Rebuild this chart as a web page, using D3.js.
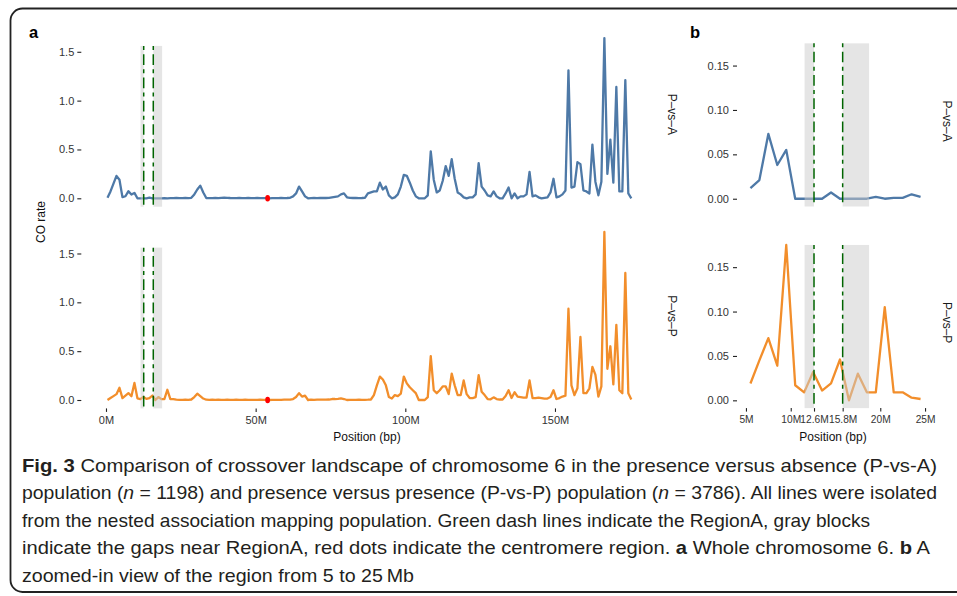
<!DOCTYPE html>
<html>
<head>
<meta charset="utf-8">
<script src="https://cdn.jsdelivr.net/npm/d3@7"></script>
<style>
  body { margin: 0; background: #ffffff; }
  svg { display: block; }
</style>
</head>
<body>
<svg id="chart" width="957" height="596"></svg>
<script>
// ---------------- DATA ----------------
// bin centres (Mb) along chromosome 6, 1-Mb bins
const positionMb = d3.range(0.5, 176, 1);

// CO rate, presence-vs-absence population
const pvaRate = [
  0.005, 0.07, 0.15, 0.23, 0.19, 0.012, 0.021, 0.073, 0.038, 0.055,
  0, 0, 0, 0, 0.007, 0, 0, 0, 0, 0.002,
  0, 0.001, 0.001, 0.005, 0.002, 0.002, 0.003, 0.002, 0.005, 0.04,
  0.09, 0.13, 0.06, 0.003, 0.002, 0.002, 0.003, 0.002, 0.004, 0.006,
  0.005, 0.003, 0.002, 0.002, 0.003, 0.002, 0.002, 0.003, 0.002, 0.002,
  0.003, 0.002, 0.001, 0.001, 0.0, 0.001, 0.002, 0.002, 0.003, 0.002,
  0.003, 0.005, 0.02, 0.05, 0.12, 0.07, 0.02, 0.0, 0.002, 0.003,
  0.002, 0.003, 0.004, 0.003, 0.004, 0.01, 0.015, 0.02, 0.04, 0.05,
  0.01, 0.004, 0.003, 0.003, 0.002, 0.003, 0.005, 0.05, 0.06, 0.07,
  0.07, 0.16, 0.09, 0.12, 0.03, 0.0, 0.01, 0.04, 0.12, 0.24,
  0.23, 0.16, 0.08, 0.02, 0.0, 0.0, 0.0, 0.03, 0.48, 0.19,
  0.06, 0.08, 0.18, 0.33, 0.23, 0.40, 0.2, 0.06, 0.04, 0.01,
  0.0, 0.01, 0.01, 0.04, 0.36, 0.12, 0.08, 0.03, 0.02, 0.07,
  0.02, 0.0, 0.0, 0.05, 0.11, 0.0, 0.05, 0.0, 0.02, 0.02,
  0.04, 0.27, 0.02, 0.03, 0.01, 0.0, 0.005, 0.01, 0.06, 0.2,
  0.01, 0.02, 0.04, 0.08, 1.31, 0.11, 0.12, 0.37, 0.35, 0.08,
  0.07, 0.05, 0.55, 0.17, 0.03, 0.17, 1.64, 0.25, 0.60, 0.16,
  1.14, 0.07, 0.07, 1.21, 0.05, 0.0
];

// CO rate, presence-vs-presence population
const pvpRate = [
  0.0, 0.02, 0.04, 0.06, 0.125, 0.019, 0.045, 0.07, 0.039, 0.175,
  0.017, 0.009, 0.032, 0.011, 0.019, 0.046, 0.0, 0.03, 0.009, 0.009,
  0.105, 0.009, 0.009, 0.003, 0.0015, 0.002, 0.003, 0.002, 0.005, 0.03,
  0.065, 0.04, 0.015, 0.003, 0.002, 0.003, 0.002, 0.003, 0.002, 0.002,
  0.003, 0.002, 0.002, 0.003, 0.002, 0.002, 0.003, 0.002, 0.002, 0.002,
  0.002, 0.003, 0.002, 0.001, 0.0, 0.001, 0.002, 0.002, 0.002, 0.003,
  0.003, 0.004, 0.01, 0.03, 0.07, 0.035, 0.045, 0.0, 0.003, 0.002,
  0.003, 0.003, 0.004, 0.003, 0.005, 0.01, 0.01, 0.012, 0.017, 0.01,
  0.0, 0.002, 0.002, 0.002, 0.003, 0.002, 0.002, 0.003, 0.005, 0.05,
  0.15, 0.24, 0.21, 0.15, 0.03, 0.015, 0.05, 0.04, 0.065, 0.24,
  0.17, 0.13, 0.1, 0.07, 0.0, 0.0, 0.0, 0.03, 0.45, 0.1,
  0.07, 0.1, 0.14, 0.14, 0.06, 0.27, 0.15, 0.05, 0.05, 0.2,
  0.06, 0.02, 0.02, 0.03, 0.255, 0.085, 0.05, 0.01, 0.007, 0.027,
  0.01, 0.005, 0.005, 0.04, 0.1, 0.02, 0.08, 0.035, 0.03, 0.025,
  0.025, 0.2, 0.02, 0.02, 0.025, 0.02, 0.015, 0.015, 0.03, 0.1,
  0.01, 0.02, 0.035, 0.045, 0.935, 0.15, 0.05, 0.12, 0.645, 0.07,
  0.07, 0.12, 0.34, 0.26, 0.035, 0.14, 1.72, 0.32, 0.55, 0.16,
  0.77, 0.1, 0.07, 1.30, 0.07, 0.005
];

const facetNames = ["P\u2013vs\u2013A", "P\u2013vs\u2013P"];
const regionAMb = [12.6, 15.8];                  // green dash lines
const gapBlocksMb = [[11.55, 12.6], [15.8, 18.75]]; // gray blocks
const centromereMb = 54;                          // red dot
const zoomWindowMb = [5, 25];
const gapTopA = 1.56;   // upper limit of gray block / green lines, panel a
const gapTopB = 0.175;  // panel b

const ticksAY = [0, 0.5, 1.0, 1.5];
const ticksAYLabels = ["0.0", "0.5", "1.0", "1.5"];
const ticksAX = [0, 50, 100, 150];
const ticksAXLabels = ["0M", "50M", "100M", "150M"];
const ticksBY = [0, 0.05, 0.10, 0.15];
const ticksBYLabels = ["0.00", "0.05", "0.10", "0.15"];
const ticksBX = [5, 10, 12.6, 15.8, 20, 25];
const ticksBXLabels = ["5M", "10M", "12.6M", "15.8M", "20M", "25M"];

const captionLines = [
  [["Fig. 3", "b"], [" Comparison of crossover landscape of chromosome 6 in the presence versus absence (P-vs-A)", ""]],
  [["population (", ""], ["n", "i"], [" = 1198) and presence versus presence (P-vs-P) population (", ""], ["n", "i"], [" = 3786). All lines were isolated", ""]],
  [["from the nested association mapping population. Green dash lines indicate the RegionA, gray blocks", ""]],
  [["indicate the gaps near RegionA, red dots indicate the centromere region. ", ""], ["a", "b"], [" Whole chromosome 6. ", ""], ["b", "b"], [" A", ""]],
  [["zoomed-in view of the region from 5 to 25\u2009Mb", ""]]
];

// ---------------- DRAW ----------------
const svg = d3.select("#chart");
const FONT = "'Liberation Sans', Arial, Helvetica, sans-serif";
const colors = ["#4E79A7", "#F28E2B"];

// frame
svg.append("rect")
  .attr("x", 10.5).attr("y", 8.5).attr("width", 1000).attr("height", 583.5)
  .attr("rx", 12).attr("fill", "none").attr("stroke", "#222").attr("stroke-width", 1.8);

const seriesAll = [pvaRate, pvpRate].map(vals => positionMb.map((p, i) => ({pos: p, val: vals[i]})));

function expand(lo, hi, f) { const d = (hi - lo) * f; return [lo - d, hi + d]; }

const panels = [
  {
    key: "a",
    xDomain: expand(d3.min(positionMb), d3.max(positionMb), 0.05),
    xRange: [81.3, 657.5],
    rows: [[21.9, 206.7], [223.6, 408.4]],
    filter: () => true,
    yMax: d3.max([...pvaRate, ...pvpRate]),
    gapTop: gapTopA,
    ticksY: ticksAY, ticksYLab: ticksAYLabels, ticksX: ticksAX, ticksXLab: ticksAXLabels,
    yPad: 3, xFont: 11, showCentromere: true, stripX: 672, xTitle: 367
  },
  {
    key: "b",
    xDomain: expand(zoomWindowMb[0], zoomWindowMb[1], 0.05),
    xRange: [737, 934],
    rows: [[35.6, 206.5], [237.2, 408.1]],
    filter: d => d.pos >= zoomWindowMb[0] && d.pos <= zoomWindowMb[1],
    yMax: null,
    gapTop: gapTopB,
    ticksY: ticksBY, ticksYLab: ticksBYLabels, ticksX: ticksBX, ticksXLab: ticksBXLabels,
    yPad: 4, xFont: 10.2, showCentromere: false, stripX: 946.5, xTitle: 833
  }
];

panels.forEach(P => {
  const x = d3.scaleLinear().domain(P.xDomain).range(P.xRange);
  const subsets = seriesAll.map(s => s.filter(P.filter));
  const yMax = P.yMax != null ? P.yMax : d3.max(subsets.flat(), d => d.val);
  const yDomain = expand(0, yMax, 0.05);

  P.rows.forEach((row, r) => {
    const y = d3.scaleLinear().domain(yDomain).range([row[1], row[0]]);
    const g = svg.append("g");

    // line
    g.append("path")
      .datum(subsets[r])
      .attr("d", d3.line().x(d => x(d.pos)).y(d => y(d.val)))
      .attr("fill", "none")
      .attr("stroke", colors[r])
      .attr("stroke-width", 2.3)
      .attr("stroke-linejoin", "round")
      .attr("stroke-linecap", "butt");

    // gray gap blocks (semi-transparent, over the line)
    g.selectAll("rect.gap").data(gapBlocksMb).join("rect")
      .attr("class", "gap")
      .attr("x", d => x(d[0]))
      .attr("width", d => x(d[1]) - x(d[0]))
      .attr("y", y(P.gapTop))
      .attr("height", row[1] - y(P.gapTop))
      .attr("fill", "#cccccc")
      .attr("fill-opacity", 0.5);

    // green region lines
    g.selectAll("line.regA").data(regionAMb).join("line")
      .attr("class", "regA")
      .attr("x1", d => x(d)).attr("x2", d => x(d))
      .attr("y1", y(P.gapTop)).attr("y2", row[1])
      .attr("stroke", "#006400")
      .attr("stroke-width", 1.5)
      .attr("stroke-dasharray", "4,4.3,10.7,4.3");

    // centromere dot
    if (P.showCentromere) {
      g.append("ellipse")
        .attr("cx", x(centromereMb)).attr("cy", y(0))
        .attr("rx", 2.4).attr("ry", 3.3)
        .attr("fill", "#ff0000");
    }

    // y axis
    const ya = g.append("g").attr("transform", `translate(${P.xRange[0]},0)`)
      .call(d3.axisLeft(y).tickValues(P.ticksY)
        .tickFormat((d, i) => P.ticksYLab[i]).tickSize(4).tickPadding(P.yPad));
    ya.select(".domain").remove();
    ya.selectAll("line").attr("stroke", "#222").attr("stroke-width", 1.1);
    ya.selectAll("text").attr("font-family", FONT).attr("font-size", 11).attr("fill", "#333");

    // strip label
    const cy = (row[0] + row[1]) / 2;
    g.append("text")
      .attr("transform", `translate(${P.stripX},${cy}) rotate(90)`)
      .attr("text-anchor", "middle")
      .attr("dominant-baseline", "central")
      .attr("font-family", FONT).attr("font-size", 12).attr("fill", "#1a1a1a")
      .text(facetNames[r]);

    // x axis on bottom row
    if (r === P.rows.length - 1) {
      const xa = g.append("g").attr("transform", `translate(0,${row[1]})`)
        .call(d3.axisBottom(x).tickValues(P.ticksX)
          .tickFormat((d, i) => P.ticksXLab[i]).tickSize(3.5).tickPadding(4));
      xa.select(".domain").remove();
      xa.selectAll("line").attr("stroke", "#222").attr("stroke-width", 1.1);
      xa.selectAll("text").attr("font-family", FONT).attr("font-size", P.xFont).attr("fill", "#333");

      svg.append("text")
        .attr("x", P.xTitle).attr("y", 441)
        .attr("text-anchor", "middle")
        .attr("font-family", FONT).attr("font-size", 12).attr("fill", "#111")
        .text("Position (bp)");
    }
  });
});

// y title
svg.append("text")
  .attr("transform", "translate(45,222) rotate(-90)")
  .attr("text-anchor", "middle")
  .attr("font-family", FONT).attr("font-size", 12).attr("fill", "#111")
  .text("CO rate");

// panel letters
[["a", 29], ["b", 690]].forEach(([t, xx]) => {
  svg.append("text").attr("x", xx).attr("y", 37.5)
    .attr("font-family", FONT).attr("font-size", 16.5).attr("font-weight", "bold")
    .attr("fill", "#000").text(t);
});

// caption
const capBase = [471.5, 499, 526.5, 554, 582];
const capWidth = [915, 915, 848, 908, 392];
captionLines.forEach((segs, i) => {
  const t = svg.append("text")
    .attr("x", 22).attr("y", capBase[i])
    .attr("font-family", "'Liberation Sans Narrow', 'Liberation Sans', Arial, sans-serif")
    .attr("font-size", 18.5).attr("fill", "#231f20")
    .attr("textLength", capWidth[i]).attr("lengthAdjust", "spacingAndGlyphs");
  segs.forEach(([txt, st]) => {
    const ts = t.append("tspan").text(txt);
    if (st === "b") ts.attr("font-weight", "bold");
    if (st === "i") ts.attr("font-style", "italic");
  });
});
</script>
</body>
</html>
